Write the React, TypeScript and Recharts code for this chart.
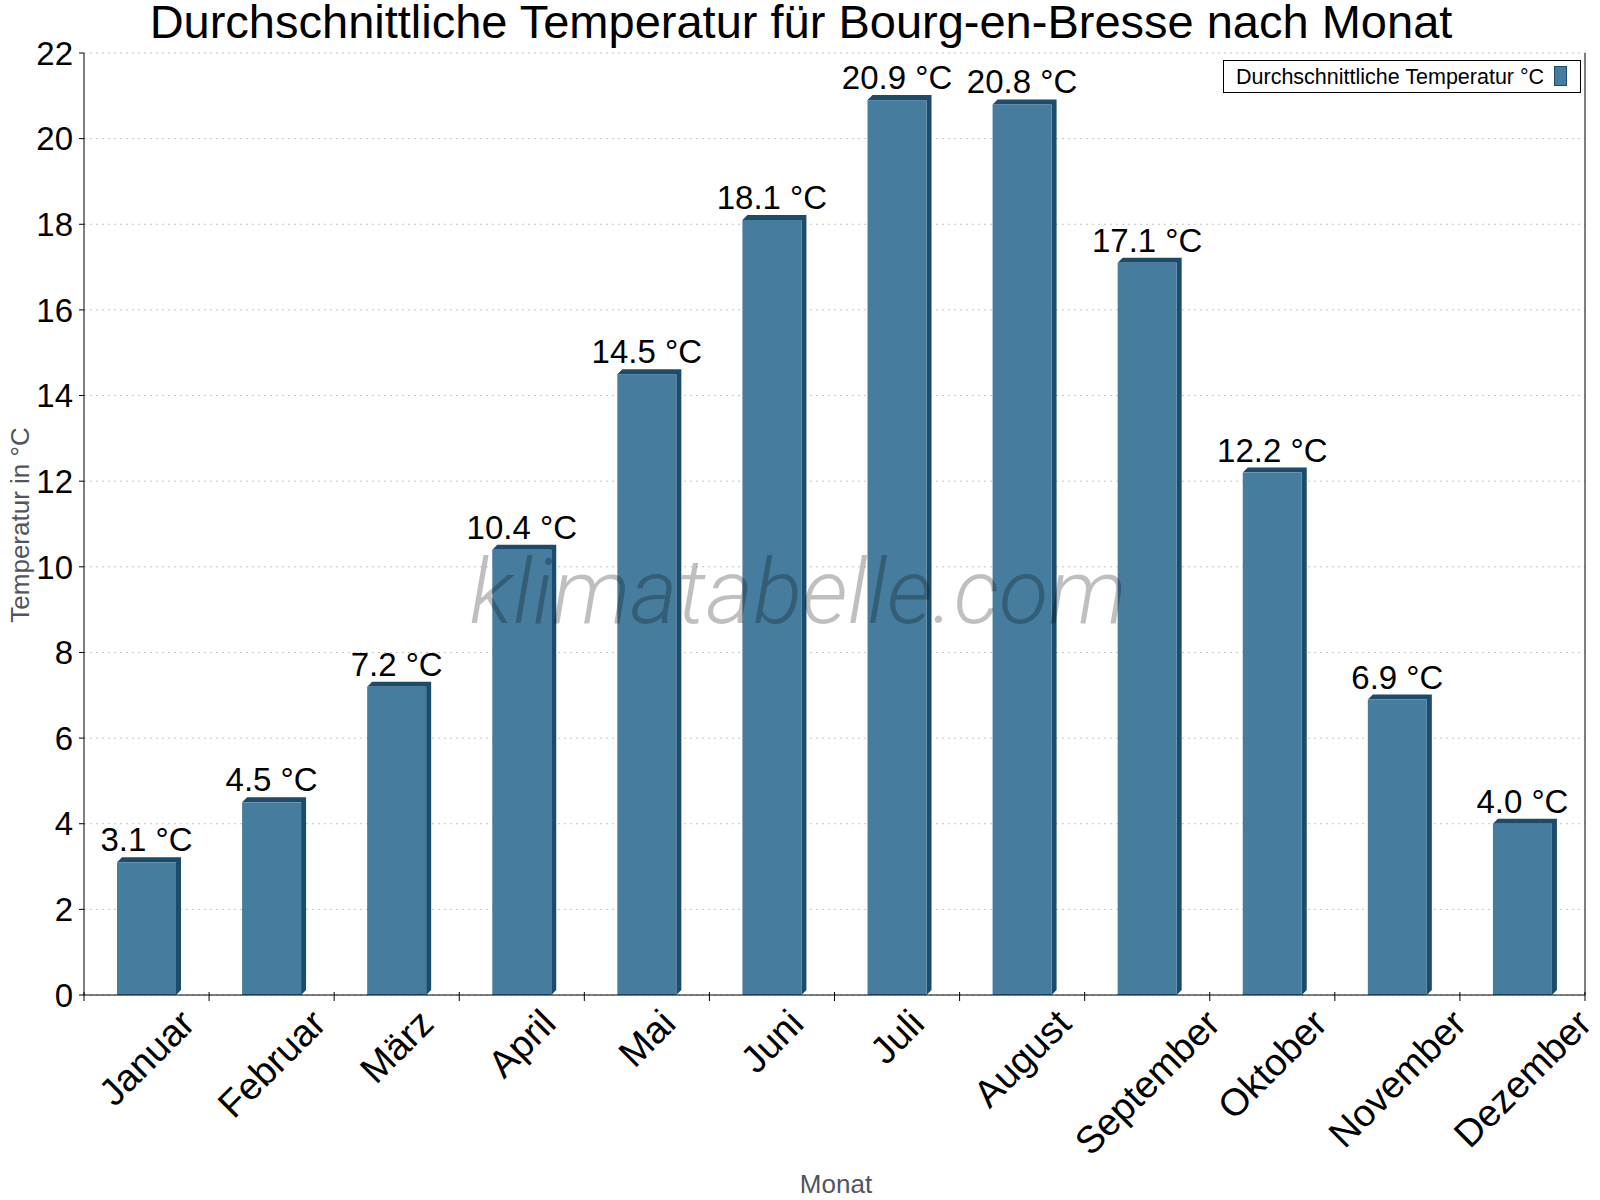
import React from 'react';
import { BarChart, Bar, XAxis, YAxis, CartesianGrid, LabelList } from 'recharts';

// Monthly mean temperature, Bourg-en-Bresse
const months = ['Januar', 'Februar', 'März', 'April', 'Mai', 'Juni', 'Juli', 'August', 'September', 'Oktober', 'November', 'Dezember'];
const temps = [3.1, 4.5, 7.2, 10.4, 14.5, 18.1, 20.9, 20.8, 17.1, 12.2, 6.9, 4.0];
const yTicks = [0, 2, 4, 6, 8, 10, 12, 14, 16, 18, 20, 22];

const data = months.map((m, i) => ({ month: m, temp: temps[i] }));

const W = 1600;
const H = 1200;
const FONT = '"Liberation Sans", Arial, Helvetica, sans-serif';
const PLOT_LEFT = 84;
const PLOT_RIGHT = 1585;
const BAND = (PLOT_RIGHT - PLOT_LEFT) / months.length;
const DEPTH = 5;
const FACE = '#467c9e';
const SIDE = '#1b4c6c';

let ctx: CanvasRenderingContext2D | null = null;
const measure = (text: string, size: number) => {
    if (!ctx) ctx = document.createElement('canvas').getContext('2d');
    if (ctx) {
        ctx.font = `${size}px ${FONT}`;
        return ctx.measureText(text).width;
    }
    return text.length * size * 0.55;
};

// bar with a little fake 3D side + top
const Bar3D = (props: any) => {
    const { x, y, width, height } = props;
    if (!height || height <= 0) return null;
    const b = y + height;
    const pts = [
        [x, y], [x + DEPTH, y - DEPTH], [x + width + DEPTH, y - DEPTH],
        [x + width + DEPTH, b - DEPTH], [x + width, b], [x + width, y],
    ].map(p => p.join(',')).join(' ');
    return (
        <g>
            <polygon points={pts} fill={SIDE} />
            <rect x={x} y={y} width={width} height={height} fill={FACE} />
        </g>
    );
};

const ValueLabel = (props: any) => {
    const { x, y, width, value } = props;
    return (
        <text x={x + width / 2} y={y - 11} textAnchor="middle" fontSize={33} fontFamily={FONT} fill="#000">
            {Number(value).toFixed(1)} °C
        </text>
    );
};

// rotated month label, box top-aligned under the category; tick marks on category borders
const MonthTick = (props: any) => {
    const { x, y, payload, index } = props;
    const size = 38;
    const L = measure(payload.value, size);
    const h = size * 0.72;
    const cy = y + 12 + 0.7071 * (L + h) / 2;
    const last = index === months.length - 1;
    return (
        <g>
            <line x1={x - BAND / 2} x2={x - BAND / 2} y1={y - 3} y2={y + 6} stroke="#000" />
            {last && <line x1={x + BAND / 2} x2={x + BAND / 2} y1={y - 3} y2={y + 6} stroke="#000" />}
            <text
                x={x}
                y={cy}
                textAnchor="middle"
                dominantBaseline="central"
                transform={`rotate(-45 ${x} ${cy})`}
                fontSize={size}
                fontFamily={FONT}
                fill="#000"
            >
                {payload.value}
            </text>
        </g>
    );
};

const App: React.FC = () => (
    <div style={{ position: 'absolute', left: 0, top: 0, width: W, height: H, background: '#fff' }}>
        <BarChart width={W} height={H} data={data} margin={{ top: 53, right: 14, bottom: 45, left: 0 }} barSize={59}>
            <CartesianGrid vertical={false} strokeDasharray="2 4" stroke="#c4c4c4" />
            <XAxis
                dataKey="month"
                height={160}
                interval={0}
                tickLine={false}
                tickSize={0}
                tickMargin={0}
                axisLine={{ stroke: '#000' }}
                tick={<MonthTick />}
            />
            <YAxis
                width={84}
                domain={[0, 22]}
                ticks={yTicks}
                interval={0}
                tickSize={5}
                tickMargin={6}
                axisLine={{ stroke: '#000' }}
                tickLine={{ stroke: '#000' }}
                tick={{ fontSize: 33, fontFamily: FONT, fill: '#000' }}
            />
            <YAxis
                yAxisId="right"
                orientation="right"
                width={1}
                domain={[0, 22]}
                tick={false}
                tickLine={false}
                axisLine={{ stroke: '#000' }}
            />
            <Bar dataKey="temp" shape={<Bar3D />} isAnimationActive={false}>
                <LabelList dataKey="temp" content={<ValueLabel />} />
            </Bar>
        </BarChart>

        <svg width={W} height={H} style={{ position: 'absolute', left: 0, top: 0, pointerEvents: 'none' }}>
            <text x={801} y={38} textAnchor="middle" fontSize={47} fontFamily={FONT} fill="#000">
                Durchschnittliche Temperatur für Bourg-en-Bresse nach Monat
            </text>
            <text x={29} y={525} textAnchor="middle" transform="rotate(-90 29 525)" fontSize={26} fontFamily={FONT} fill="#50565c">
                Temperatur in °C
            </text>
            <text x={836} y={1193} textAnchor="middle" fontSize={26} fontFamily={FONT} fill="#50565c">
                Monat
            </text>

            {/* legend */}
            <rect x={1223.5} y={60.5} width={357} height={32} fill="#fff" stroke="#000" />
            <text x={1236} y={84} fontSize={21.5} fontFamily={FONT} fill="#000">Durchschnittliche Temperatur °C</text>
            <rect x={1554.5} y={66.5} width={12} height={19} fill={FACE} stroke={SIDE} />

            {/* watermark */}
            <text
                x={798}
                y={623}
                textAnchor="middle"
                fontSize={90}
                fontFamily="Roboto, 'Open Sans', sans-serif"
                fontWeight={300}
                fontStyle="italic"
                fill="#000"
                fillOpacity={0.25}
                textLength={657}
                lengthAdjust="spacingAndGlyphs"
            >
                klimatabelle.com
            </text>
        </svg>
    </div>
);

export default App;
